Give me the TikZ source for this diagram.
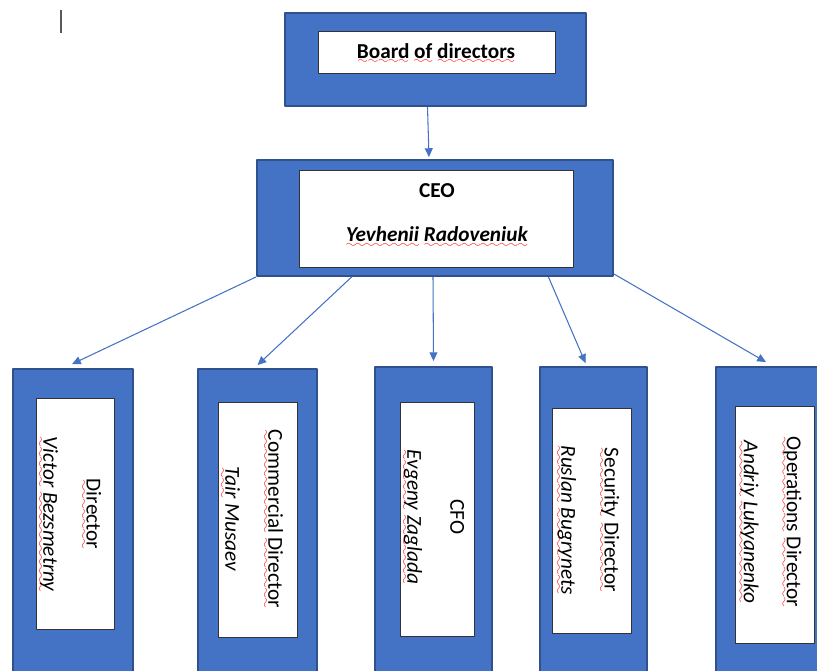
\documentclass[tikz,border=0pt]{standalone}
\usepackage{fontspec}
\setmainfont{Carlito}
\usepackage{tikz}
\usetikzlibrary{arrows.meta,calc,positioning}
\definecolor{boxblue}{RGB}{68,114,196}
\definecolor{boxedge}{RGB}{47,82,143}
\font\wavyfont=lasy6
\newcommand\spell[1]{\setbox0\hbox{#1}\leavevmode\rlap{\color{red}\lower3.2pt\hbox to\wd0{\xleaders\hbox{\wavyfont\char58}\hfill}}#1}

\begin{document}
\begin{tikzpicture}[x=0.02cm,y=-0.02cm,line join=round,
  outer/.style={draw=boxedge,line width=1.1pt,fill=boxblue,inner sep=0pt},
  inner/.style={draw=black!80,line width=0.5pt,fill=white,inner sep=0pt},
  lbl/.style={font=\fontsize{12.1}{14}\selectfont,align=center,inner sep=0pt},
  link/.style={draw=boxblue,line width=0.6pt,-{Triangle[length=5pt,width=4.5pt]}}]
  \useasboundingbox (0,0) rectangle (817,670);
  \draw[gray!70!black,line width=0.8pt] (61,10) -- (61,33);
  % board and ceo
  \node[outer,minimum width=6.02cm,minimum height=1.86cm] (board) at (435.5,59.5) {};
  \node[inner,minimum width=4.74cm,minimum height=0.84cm] (boardin) at (436.5,52) {};
  \node[lbl] (tboard) at (436,53.5) {\bfseries\spell{Board} \spell{of} \spell{directors}};
  \node[outer,minimum width=7.12cm,minimum height=2.32cm] (ceo) at (435,218) {};
  \node[inner,minimum width=5.48cm,minimum height=1.94cm] (ceoin) at (436,218.5) {};
  \node[lbl] (tceo) at (437,215.5) {\bfseries CEO\\[11pt]\bfseries\itshape\spell{Yevhenii} \spell{Radoveniuk}};
  % the five directors
  \foreach \id/\ox/\ow/\oy/\oh/\ix/\iw/\iy/\ih/\tx/\ty/\role/\who in {
      dir/73/2.40/529.5/6.42/75/1.56/513.5/4.62/69.5/514/{\spell{Director}}/{\spell{Victor} \spell{Bezsmetrny}},
      com/257.5/2.38/529.5/6.42/257.5/1.58/519.5/4.70/251.5/519/{\spell{Commercial} \spell{Director}}/{\spell{Tair} Musaev},
      cfo/433.5/2.34/528.5/6.46/437/1.48/519/4.68/433/517/{CFO}/{\spell{Evgeny} \spell{Zaglada}},
      sec/593.5/2.14/528.5/6.46/591.5/1.58/520.5/4.50/587.5/520/{\spell{Security} \spell{Director}}/{\spell{Ruslan} \spell{Bugrynets}},
      ops/773/2.28/528.5/6.46/774.5/1.58/524.5/4.74/770/522/{\spell{Operations} \spell{Director}}/{\spell{Andriy} \spell{Lukyanenko}}} {
    \node[outer,minimum width=\ow cm,minimum height=\oh cm] (\id) at (\ox,\oy) {};
    \node[inner,minimum width=\iw cm,minimum height=\ih cm] (\id in) at (\ix,\iy) {};
    \node[lbl,rotate=-90] (t\id) at (\tx,\ty) {\role\\[10.5pt]\itshape\who};
  }
  % links
  \draw[link] ($(board.south)+(-8,0)$) -- ($(ceo.north)+(-6,-2)$);
  \draw[link] (ceo.south west) -- ($(dir.north)+(-1,-4)$);
  \draw[link] ($(ceo.south west)!0.267!(ceo.south east)$) -- ($(com.north)+(0,-3)$);
  \draw[link] ($(ceo.south)+(-2,0)$) -- ($(cfo.north)+(0,-5)$);
  \draw[link] ($(ceo.south west)!0.817!(ceo.south east)$) -- ($(sec.north)+(-8,-3)$);
  \draw[link] ($(ceo.south east)+(0,-3)$) -- ($(ops.north)+(-7,-4)$);
\end{tikzpicture}
\end{document}
